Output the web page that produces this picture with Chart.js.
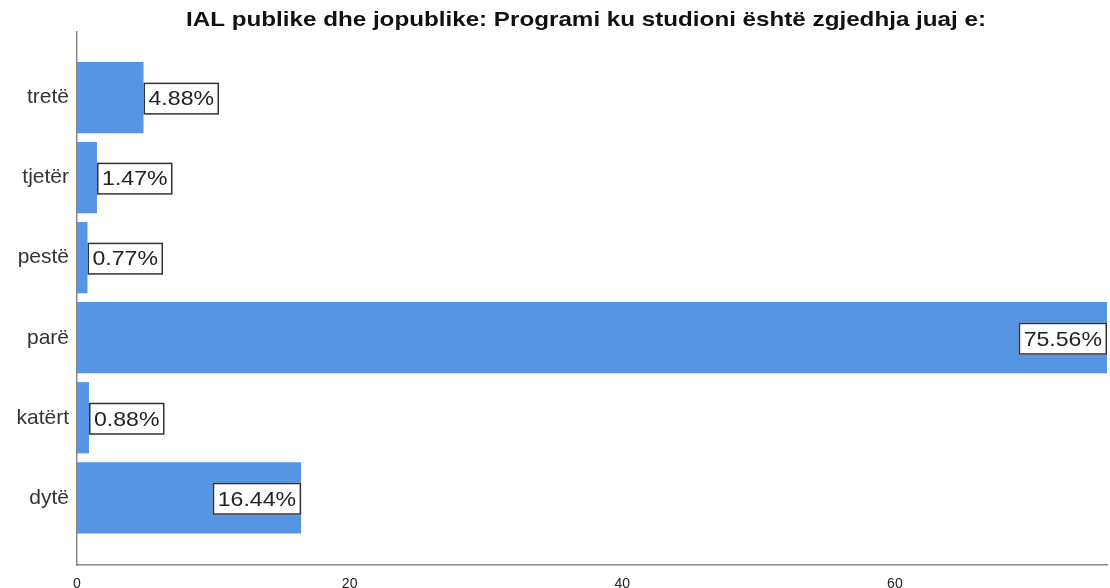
<!DOCTYPE html>
<html>
<head>
<meta charset="utf-8">
<script src="https://cdn.jsdelivr.net/npm/chart.js@4/dist/chart.umd.min.js"></script>
<style>
html,body{margin:0;padding:0;background:#fff;}
#wrap{width:1110px;height:588px;position:relative;}
</style>
</head>
<body>
<div id="wrap"><canvas id="c" width="1110" height="588"></canvas></div>
<script>
const titleText = "IAL publike dhe jopublike: Programi ku studioni është zgjedhja juaj e:";
const categories = ["tretë", "tjetër", "pestë", "parë", "katërt", "dytë"];
const percentValues = [4.88, 1.47, 0.77, 75.56, 0.88, 16.44];
const xTickValues = [0, 20, 40, 60];

const FONT = "'Liberation Sans', Arial, sans-serif";

const titlePlugin = {
  id: 'titleDraw',
  afterDraw(chart) {
    const ctx = chart.ctx;
    ctx.save();
    ctx.font = "bold 21px " + FONT;
    ctx.fillStyle = "#111";
    ctx.textAlign = "center";
    ctx.textBaseline = "alphabetic";
    const w = ctx.measureText(titleText).width;
    const sx = 800 / w;
    ctx.translate(586, 26);
    ctx.scale(sx, 1);
    ctx.fillText(titleText, 0, 0);
    ctx.restore();
  }
};

const labelPlugin = {
  id: 'boxLabels',
  afterDatasetsDraw(chart) {
    const ctx = chart.ctx;
    const meta = chart.getDatasetMeta(0);
    ctx.save();
    ctx.font = "21px " + FONT;
    ctx.textBaseline = "middle";
    ctx.textAlign = "left";
    const sx = 1.1;
    meta.data.forEach((bar, i) => {
      const txt = percentValues[i].toFixed(2) + "%";
      const tw = ctx.measureText(txt).width * sx;
      const pad = 5;
      const w = tw + 2 * pad;
      const h = 32;
      const end = bar.x;
      const base = bar.base;
      let left = (end - base) >= w ? end - w : end;
      const top = bar.y - h / 2 + 1;
      ctx.fillStyle = "#fff";
      ctx.fillRect(left, top, w, h);
      ctx.strokeStyle = "#333";
      ctx.lineWidth = 1.5;
      ctx.strokeRect(left + 0.75, top + 0.75, w - 1.5, h - 1.5);
      ctx.fillStyle = "#222";
      ctx.save();
      ctx.translate(left + pad, top + h / 2 + 1);
      ctx.scale(sx, 1);
      ctx.fillText(txt, 0, 0);
      ctx.restore();
    });
    ctx.restore();
  }
};

new Chart(document.getElementById('c'), {
  type: 'bar',
  data: {
    datasets: [{
      data: percentValues.map((v, i) => ({ x: v, y: i })),
      backgroundColor: '#5595E3',
      borderWidth: 0,
      barPercentage: 1,
      categoryPercentage: 0.89
    }]
  },
  options: {
    indexAxis: 'y',
    responsive: false,
    animation: false,
    events: [],
    layout: { padding: { top: 32, right: 3, left: 0, bottom: 0 } },
    plugins: { legend: { display: false }, tooltip: { enabled: false }, title: { display: false } },
    scales: {
      x: {
        type: 'linear',
        min: 0,
        max: Math.max(...percentValues),
        offset: false,
        grid: { display: false, drawTicks: false },
        border: { display: true, color: '#888', width: 1.5 },
        afterBuildTicks(scale) { scale.ticks = xTickValues.map(v => ({ value: v })); },
        afterFit(scale) { scale.height = 23; },
        ticks: { color: '#222', font: { family: FONT, size: 14 }, padding: 11, maxRotation: 0 }
      },
      y: {
        type: 'linear',
        reverse: true,
        offset: false,
        min: -0.82,
        max: 5.84,
        grid: { display: false, drawTicks: false },
        border: { display: true, color: '#888', width: 1.5 },
        afterBuildTicks(scale) { scale.ticks = categories.map((_, i) => ({ value: i })); },
        afterFit(scale) { scale.width = 77; },
        ticks: {
          color: '#333',
          font: { family: FONT, size: 21 },
          padding: 8,
          callback: (v) => categories[v]
        }
      }
    }
  },
  plugins: [titlePlugin, labelPlugin]
});
</script>
</body>
</html>
